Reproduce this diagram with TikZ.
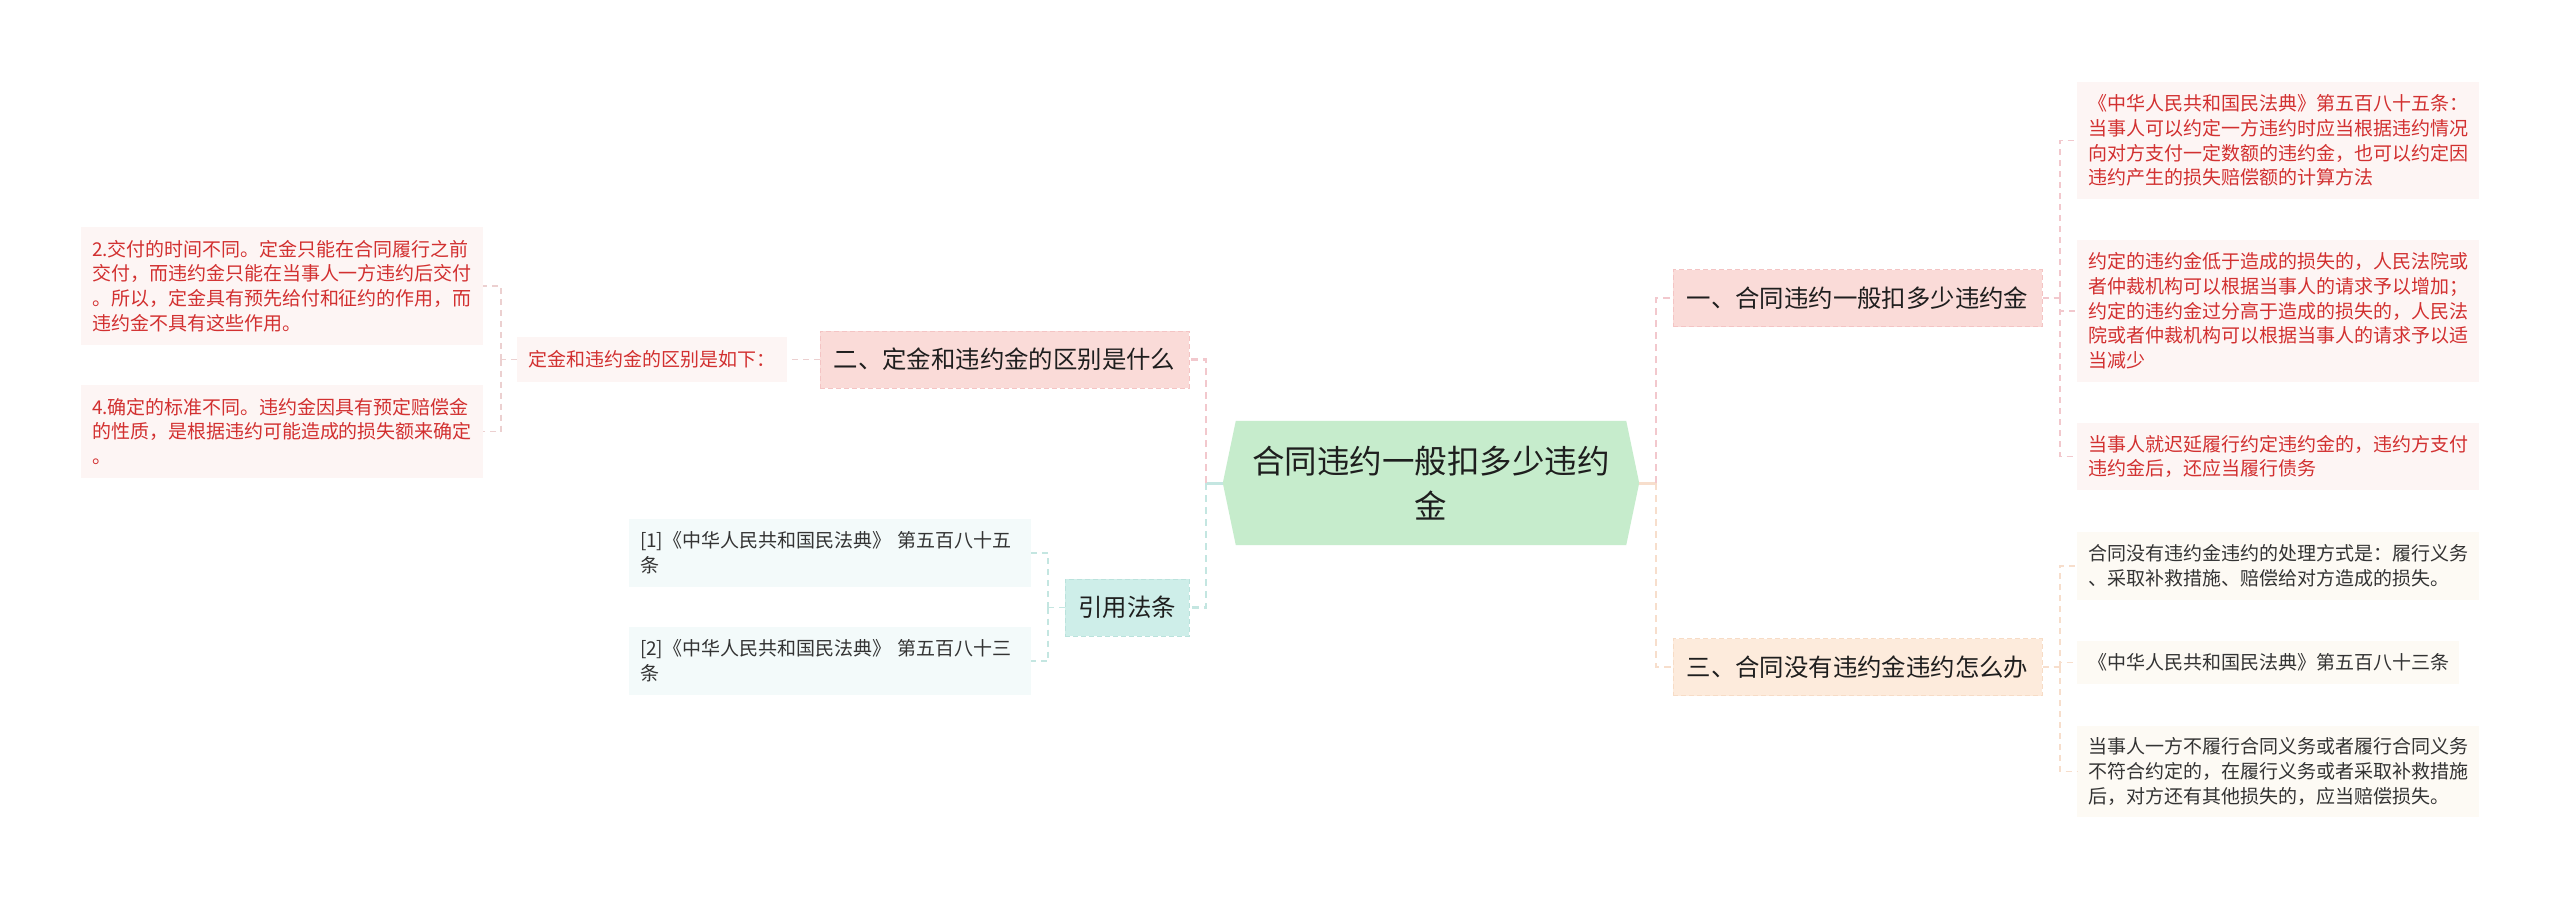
\documentclass[tikz,border=0pt]{standalone}
\usepackage{fontspec}
\setmainfont{Noto Sans CJK SC}
\usetikzlibrary{backgrounds}
\definecolor{rootfill}{RGB}{198,236,204}
\definecolor{pinkfill}{RGB}{250,219,216}
\definecolor{pinkborder}{RGB}{244,196,196}
\definecolor{pinkline}{RGB}{242,200,205}
\definecolor{peachfill}{RGB}{253,235,220}
\definecolor{peachborder}{RGB}{247,220,198}
\definecolor{peachline}{RGB}{247,222,204}
\definecolor{tealfill}{RGB}{206,238,233}
\definecolor{tealborder}{RGB}{186,226,220}
\definecolor{tealline}{RGB}{196,230,225}
\definecolor{redleaf}{RGB}{253,245,244}
\definecolor{creamleaf}{RGB}{253,250,244}
\definecolor{tealleaf}{RGB}{243,250,250}
\definecolor{redtext}{RGB}{210,48,48}
\definecolor{graytext}{RGB}{51,51,51}
\definecolor{textdark}{RGB}{30,30,30}
\definecolor{leafpinkline}{RGB}{236,208,208}
\tikzset{
  x=1pt, y=-1pt,
  rootbox/.style={rectangle, inner sep=0pt, minimum width=416pt, minimum height=124pt,
    align=center, font=\fontsize{32.5}{45}\selectfont, text=textdark},
  mainbox/.style={rectangle, inner sep=0pt, minimum height=57pt,
    font=\fontsize{24.4}{28}\selectfont, text=textdark,
    line width=1pt, dash pattern=on 5pt off 3pt},
  leafbox/.style={rectangle, inner xsep=11pt, inner ysep=0pt, align=left,
    font=\fontsize{19}{24.7}\selectfont},
  redleafbox/.style={leafbox, fill=redleaf, text=redtext},
  creamleafbox/.style={leafbox, fill=creamleaf, text=graytext},
  tealleafbox/.style={leafbox, fill=tealleaf, text=graytext},
  stem/.style={line width=3pt},
  mainconn/.style={line width=2.5pt, dash pattern=on 7pt off 5pt},
  leafconn/.style={line width=1.6pt, dash pattern=on 6pt off 5pt},
}
\begin{document}
\begin{tikzpicture}
\begin{pgfonlayer}{background}
\fill[white] (0,0) rectangle (2560,900);
\end{pgfonlayer}
\useasboundingbox (0,0) rectangle (2560,900);

% root
\node[rootbox] (root) at (1431,483) {合同违约一般扣多少违约\\金};
\begin{pgfonlayer}{background}
\fill[rootfill] (root.west) -- ([xshift=13pt]root.north west) -- ([xshift=-13pt]root.north east)
  -- (root.east) -- ([xshift=-13pt]root.south east) -- ([xshift=13pt]root.south west) -- cycle;
\end{pgfonlayer}

% main branches
\node[mainbox, minimum width=369pt, fill=pinkfill, draw=pinkborder] (n2) at (1004.5,359.5) {二、定金和违约金的区别是什么};
\node[mainbox, minimum width=124pt, fill=tealfill, draw=tealborder] (ref) at (1127,607.5) {引用法条};
\node[mainbox, minimum width=369pt, fill=pinkfill, draw=pinkborder] (n1) at (1857.5,298) {一、合同违约一般扣多少违约金};
\node[mainbox, minimum width=369pt, fill=peachfill, draw=peachborder] (n3) at (1857.5,667) {三、合同没有违约金违约怎么办};

% left leaves
\node[redleafbox, text width=248pt, minimum height=45pt] (def) at (652,359.5) {定金和违约金的区别是如下：};
\node[redleafbox, text width=380pt, minimum height=118pt] (la) at (282,286) {2.交付的时间不同。定金只能在合同履行之前\\交付，而违约金只能在当事人一方违约后交付\\。所以，定金具有预先给付和征约的作用，而\\违约金不具有这些作用。};
\node[redleafbox, text width=380pt, minimum height=93pt] (lb) at (282,431.5) {4.确定的标准不同。违约金因具有预定赔偿金\\的性质，是根据违约可能造成的损失额来确定\\。};

\node[tealleafbox, text width=380pt, minimum height=68pt] (ra) at (830,553) {[1]《中华人民共和国民法典》~第五百八十五\\条};
\node[tealleafbox, text width=380pt, minimum height=68pt] (rb) at (830,661) {[2]《中华人民共和国民法典》~第五百八十三\\条};

% right leaves
\node[redleafbox, text width=380pt, minimum height=117pt] (r1) at (2278,140.5) {《中华人民共和国民法典》第五百八十五条：\\当事人可以约定一方违约时应当根据违约情况\\向对方支付一定数额的违约金，也可以约定因\\违约产生的损失赔偿额的计算方法};
\node[redleafbox, text width=380pt, minimum height=142pt] (r2) at (2278,311) {约定的违约金低于造成的损失的，人民法院或\\者仲裁机构可以根据当事人的请求予以增加；\\约定的违约金过分高于造成的损失的，人民法\\院或者仲裁机构可以根据当事人的请求予以适\\当减少};
\node[redleafbox, text width=380pt, minimum height=67pt] (r3) at (2278,456.5) {当事人就迟延履行约定违约金的，违约方支付\\违约金后，还应当履行债务};

\node[creamleafbox, text width=380pt, minimum height=68pt] (r4) at (2278,566) {合同没有违约金违约的处理方式是：履行义务\\、采取补救措施、赔偿给对方造成的损失。};
\node[creamleafbox, text width=360pt, minimum height=43pt] (r5) at (2268,662.5) {《中华人民共和国民法典》第五百八十三条};
\node[creamleafbox, text width=380pt, minimum height=91pt] (r6) at (2278,771.5) {当事人一方不履行合同义务或者履行合同义务\\不符合约定的，在履行义务或者采取补救措施\\后，对方还有其他损失的，应当赔偿损失。};

% junctions
\coordinate (jL) at (1206,483);
\coordinate (jR) at (1656,483);
\coordinate (jD) at (501,359.5);
\coordinate (jRef) at (1048,607.5);
\coordinate (jA) at (2060,298);
\coordinate (jB) at (2060,667);

% root connectors
\draw[stem, tealline] (root.west) -- (jL);
\draw[stem, peachline] (root.east) -- (jR);
\draw[mainconn, pinkline] (jL) |- (n2.east);
\draw[mainconn, tealline] (jL) |- (ref.east);
\draw[mainconn, pinkline] (jR) |- (n1.west);
\draw[mainconn, peachline] (jR) |- (n3.west);

% left subtree
\draw[leafconn, leafpinkline] (n2.west) -- (def.east);
\draw[leafconn, leafpinkline] (def.west) -- (jD);
\draw[leafconn, leafpinkline] (jD) |- (la.east);
\draw[leafconn, leafpinkline] (jD) |- (lb.east);

\draw[leafconn, tealline] (ref.west) -- (jRef);
\draw[leafconn, tealline] (jRef) |- (ra.east);
\draw[leafconn, tealline] (jRef) |- (rb.east);

% right subtrees
\draw[leafconn, pinkline] (n1.east) -- (jA);
\draw[leafconn, pinkline] (jA) |- (r1.west);
\draw[leafconn, pinkline] (jA) |- (r2.west);
\draw[leafconn, pinkline] (jA) |- (r3.west);

\draw[leafconn, peachline] (n3.east) -- (jB);
\draw[leafconn, peachline] (jB) |- (r4.west);
\draw[leafconn, peachline] (jB) |- (r5.west);
\draw[leafconn, peachline] (jB) |- (r6.west);
\end{tikzpicture}
\end{document}
